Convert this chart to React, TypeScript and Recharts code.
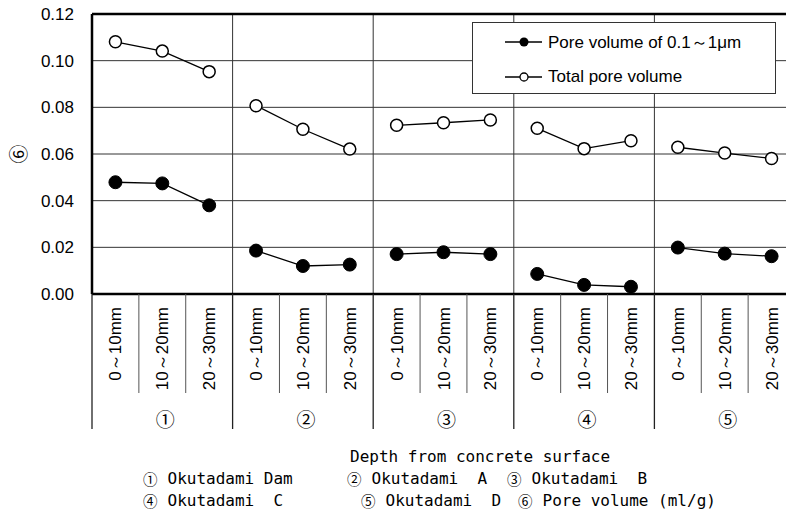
import React from "react";
import { LineChart, Line, XAxis, YAxis, CartesianGrid, ReferenceLine, Legend } from "recharts";

const depthLabels = ["0～10mm", "10～20mm", "20～30mm"];
const groupMarks = ["①", "②", "③", "④", "⑤"];
const poreSmall = [0.0479, 0.0474, 0.038, 0.0186, 0.012, 0.0126, 0.0171, 0.0179, 0.0171, 0.0086, 0.0039, 0.0031, 0.0199, 0.0173, 0.0162];
const poreTotal = [0.1081, 0.1041, 0.0953, 0.0807, 0.0706, 0.0621, 0.0723, 0.0734, 0.0746, 0.071, 0.0623, 0.0657, 0.0629, 0.0604, 0.0581];
const yTicks = [0, 0.02, 0.04, 0.06, 0.08, 0.1, 0.12];

const seriesNames = ["Pore volume of 0.1～1μm", "Total pore volume"];
const axisTitle = "Depth from concrete surface";
const notes = [
  { mark: "①", text: "Okutadami Dam", x: 143, row: 0 },
  { mark: "②", text: "Okutadami  A", x: 347, row: 0 },
  { mark: "③", text: "Okutadami  B", x: 507, row: 0 },
  { mark: "④", text: "Okutadami  C", x: 143, row: 1 },
  { mark: "⑤", text: "Okutadami  D", x: 361, row: 1 },
  { mark: "⑥", text: "Pore volume (ml/g)", x: 518, row: 1 },
];

const groups = groupMarks.map((_, g) =>
  depthLabels.map((_, k) => {
    const i = g * 3 + k;
    return { x: i + 0.5, pore: poreSmall[i], total: poreTotal[i] };
  })
);

const xTicks: number[] = [];
for (let i = 0; i <= 15; i++) {
  xTicks.push(i);
  if (i < 15) xTicks.push(i + 0.5);
}

const FONT = "'Liberation Sans', Arial, sans-serif";
const MARK_FONT = "'Noto Sans CJK JP', sans-serif";
const NOTE_FONT = "'DejaVu Sans Mono', monospace";

function AxisTick(props: any) {
  const { x, y, payload } = props;
  const v = payload.value;
  if (Number.isInteger(v)) {
    const major = v % 3 === 0;
    return (
      <line x1={x} x2={x} y1={y} y2={y + (major ? 135 : 99)} stroke={major ? "#222" : "#555"} strokeWidth={major ? 1.3 : 1} />
    );
  }
  const i = Math.floor(v);
  const g = Math.floor(i / 3);
  return (
    <g>
      <text transform={`translate(${x + 6},${y + 13}) rotate(-90)`} textAnchor="end" fontSize={17} fontFamily={FONT} fill="#000">
        {depthLabels[i % 3]}
      </text>
      {i % 3 === 1 && (
        <text x={x + 3} y={y + 133} textAnchor="middle" fontSize={19} fontFamily={MARK_FONT} fill="#000">
          {groupMarks[g]}
        </text>
      )}
    </g>
  );
}

function LegendBox() {
  return (
    <div style={{ position: "relative", width: 302, height: 70, border: "1px solid #333", background: "#fff", fontFamily: FONT, fontSize: 17 }}>
      {seriesNames.map((name, i) => (
        <div key={name} style={{ position: "absolute", left: 32, top: 8 + 35 * i, height: 22, display: "flex", alignItems: "center" }}>
          <svg width={40} height={22}>
            <line x1={0} x2={37} y1={11} y2={11} stroke="#000" strokeWidth={1.3} />
            {i === 0 ? (
              <circle cx={19} cy={11} r={4.5} fill="#000" />
            ) : (
              <circle cx={19} cy={11} r={4} fill="#fff" stroke="#000" strokeWidth={1.3} />
            )}
          </svg>
          <span style={{ marginLeft: 3, whiteSpace: "nowrap" }}>{name}</span>
        </div>
      ))}
    </div>
  );
}

export default function App() {
  return (
    <div style={{ position: "absolute", left: 0, top: 0, width: 786, height: 514, overflow: "hidden", background: "#fff" }}>
      <LineChart width={800} height={440} margin={{ top: 14, right: 5, left: 0, bottom: 0 }}>
        <CartesianGrid vertical={false} stroke="#333" strokeWidth={1} />
        <XAxis
          type="number"
          dataKey="x"
          domain={[0, 15]}
          ticks={xTicks}
          interval={0}
          height={146}
          tickSize={0}
          tickMargin={0}
          tickLine={false}
          axisLine={{ stroke: "#000", strokeWidth: 2.5 }}
          tick={<AxisTick />}
        />
        <YAxis
          domain={[0, 0.12]}
          ticks={yTicks}
          width={92}
          tickSize={0}
          tickMargin={18}
          tickLine={false}
          axisLine={{ stroke: "#000", strokeWidth: 2.5 }}
          tickFormatter={(v: number) => v.toFixed(2)}
          tick={{ fontSize: 17, fill: "#000", fontFamily: FONT }}
          label={() => (
            <text transform="translate(26,154) rotate(-90)" textAnchor="middle" fontSize={19} fontFamily={MARK_FONT} fill="#000">
              ⑥
            </text>
          )}
        />
        {[3, 6, 9, 12].map((v) => (
          <ReferenceLine key={v} x={v} stroke="#333" strokeWidth={1} />
        ))}
        <ReferenceLine y={0.12} stroke="#000" strokeWidth={2.5} />
        <Legend
          layout="horizontal"
          verticalAlign="middle"
          align="center"
          wrapperStyle={{ left: 472, top: 22, width: 304, height: 72 }}
          content={() => <LegendBox />}
        />
        {groups.map((rows, g) => (
          <Line
            key={"t" + g}
            data={rows}
            dataKey="total"
            name={seriesNames[1]}
            stroke="#000"
            strokeWidth={1.3}
            dot={{ r: 6, fill: "#fff", stroke: "#000", strokeWidth: 1.5 }}
            isAnimationActive={false}
            legendType="none"
          />
        ))}
        {groups.map((rows, g) => (
          <Line
            key={"p" + g}
            data={rows}
            dataKey="pore"
            name={seriesNames[0]}
            stroke="#000"
            strokeWidth={1.3}
            dot={{ r: 6.5, fill: "#000", stroke: "#000", strokeWidth: 1 }}
            isAnimationActive={false}
            legendType="none"
          />
        ))}
      </LineChart>
      <div style={{ position: "absolute", left: 350, top: 448, fontFamily: NOTE_FONT, fontSize: 16, lineHeight: "18px", whiteSpace: "pre" }}>
        {axisTitle}
      </div>
      {notes.map((n) => (
        <div
          key={n.mark}
          style={{ position: "absolute", left: n.x, top: 470 + n.row * 22, height: 18, fontFamily: NOTE_FONT, fontSize: 16, lineHeight: "18px", whiteSpace: "pre", display: "flex", alignItems: "center" }}
        >
          <span style={{ fontFamily: MARK_FONT, fontSize: 14.5, lineHeight: "18px" }}>{n.mark}</span>
          <span style={{ marginLeft: 10 }}>{n.text}</span>
        </div>
      ))}
    </div>
  );
}
